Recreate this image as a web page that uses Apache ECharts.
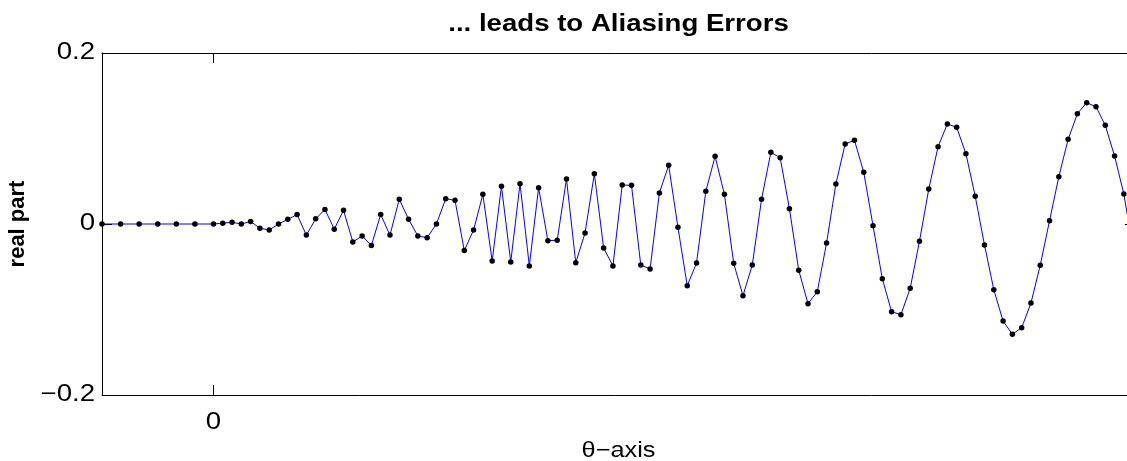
<!DOCTYPE html>
<html>
<head>
<meta charset="utf-8">
<script src="https://cdn.jsdelivr.net/npm/echarts@6/dist/echarts.min.js"></script>
<style>
  html, body { margin: 0; padding: 0; background: #fff; }
  #chart { width: 1127px; height: 461px; }
</style>
</head>
<body>
<div id="chart"></div>
<script>
// Sample positions along the theta axis (coarse lead-in, then unit steps)
const theta = [-12, -10, -8, -6, -4, -2,
  0, 1, 2, 3, 4, 5, 6, 7, 8, 9, 10, 11, 12, 13, 14, 15, 16, 17, 18, 19,
  20, 21, 22, 23, 24, 25, 26, 27, 28, 29, 30, 31, 32, 33, 34, 35, 36, 37, 38, 39,
  40, 41, 42, 43, 44, 45, 46, 47, 48, 49, 50, 51, 52, 53, 54, 55, 56, 57, 58, 59,
  60, 61, 62, 63, 64, 65, 66, 67, 68, 69, 70, 71, 72, 73, 74, 75, 76, 77, 78, 79,
  80, 81, 82, 83, 84, 85, 86, 87, 88, 89, 90, 91, 92, 93, 94, 95, 96, 97, 98, 99];

// Real part of the sampled signal
const realPart = [0, 0, 0, 0, 0, 0,
  0, 0.001, 0.002, 0.0, 0.003, -0.005, -0.007, 0.0, 0.0055, 0.011,
  -0.013, 0.006, 0.017, -0.006, 0.016, -0.021, -0.014, -0.025, 0.011, -0.013,
  0.029, 0.0055, -0.014, -0.016, 0.0, 0.0296, 0.0277, -0.031, -0.007, 0.0347,
  -0.0433, 0.0441, -0.0444, 0.0471, -0.049, 0.0425, -0.0195, -0.019, 0.0526, -0.0452,
  -0.0105, 0.0588, -0.028, -0.049, 0.0456, 0.0452, -0.048, -0.0526, 0.0363, 0.0686,
  -0.0039, -0.0721, -0.0456, 0.0382, 0.0792, 0.0347, -0.046, -0.0838, -0.048, 0.0289,
  0.0838, 0.0776, 0.0179, -0.054, -0.0932, -0.0792, -0.0222, 0.0468, 0.0936, 0.0979,
  0.0605, -0.002, -0.064, -0.1026, -0.1061, -0.0752, -0.0202, 0.0409, 0.0904, 0.117,
  0.1131, 0.0822, 0.0324, -0.0246, -0.0768, -0.1135, -0.129, -0.1213, -0.0924, -0.0483,
  0.0039, 0.0553, 0.099, 0.129, 0.1419, 0.1372, 0.1154, 0.0795, 0.0351, -0.03];

const xTicks = [0];
const yTicks = [-0.2, 0, 0.2];

const titleText = '... leads to Aliasing Errors';
const xName = '\u03B8\u2212axis';
const yName = 'real part';

const FONT = '"Liberation Sans", Arial, Helvetica, sans-serif';
const WIDEN = 1.2;   // the figure's lettering runs slightly wide
const fmt = v => (v < 0 ? '\u2212' + String(-v) : String(v));

const GRID = { left: 102, right: -8, top: 53, bottom: 66 };
const X_MIN = -12, X_MAX = 99.2;

const chart = echarts.init(document.getElementById('chart'), null, { renderer: 'canvas' });

const frameLine = { show: true, onZero: false, lineStyle: { color: '#000', width: 1 } };
const inTick = { show: true, inside: true, length: 10, lineStyle: { color: '#000', width: 1 } };

chart.setOption({
  backgroundColor: '#fff',
  animation: false,
  grid: Object.assign({ outerBoundsMode: 'none' }, GRID),
  xAxis: [{
    type: 'value', position: 'bottom', min: X_MIN, max: X_MAX,
    axisLine: frameLine,
    axisTick: Object.assign({}, inTick, { customValues: xTicks }),
    axisLabel: { show: false },
    splitLine: { show: false }
  }, {
    type: 'value', position: 'top', min: X_MIN, max: X_MAX,
    axisLine: frameLine,
    axisTick: Object.assign({}, inTick, { customValues: xTicks }),
    axisLabel: { show: false },
    splitLine: { show: false }
  }],
  yAxis: [{
    type: 'value', position: 'left', min: -0.2, max: 0.2, interval: 0.2,
    axisLine: frameLine,
    axisTick: Object.assign({}, inTick, { customValues: yTicks }),
    axisLabel: { show: false },
    splitLine: { show: false }
  }, {
    type: 'value', position: 'right', min: -0.2, max: 0.2, interval: 0.2,
    axisLine: frameLine,
    axisTick: Object.assign({}, inTick, { customValues: yTicks }),
    axisLabel: { show: false },
    splitLine: { show: false }
  }],
  series: [{
    type: 'line',
    xAxisIndex: 0, yAxisIndex: 0,
    data: theta.map((t, i) => [t, realPart[i]]),
    clip: true,
    lineStyle: { color: '#0000ff', width: 1 },
    symbol: 'circle', symbolSize: 5.5,
    showAllSymbol: true,
    itemStyle: { color: '#000', borderWidth: 0 },
    z: 3
  }]
});

// Tick labels, axis titles and heading, placed through the axis scales
const gridLeft = GRID.left;
const gridRight = 1127 - GRID.right;
const gridBottom = 461 - GRID.bottom;
const plotMidX = (gridLeft + gridRight) / 2;

const texts = [];
const txt = (s, x, y, opts) => Object.assign({
  type: 'text', x: x, y: y, silent: true, scaleX: WIDEN,
  style: Object.assign({ text: s, fill: '#000', align: 'center', verticalAlign: 'middle',
    font: 'normal 23px ' + FONT }, opts && opts.style)
}, opts && opts.el);

yTicks.forEach(v => {
  const py = chart.convertToPixel({ yAxisIndex: 0 }, v);
  texts.push(txt(fmt(v), gridLeft - 7, py, { style: { align: 'right' } }));
});
xTicks.forEach(v => {
  const px = chart.convertToPixel({ xAxisIndex: 0 }, v);
  texts.push(txt(fmt(v), px, gridBottom + 28));
});
texts.push(txt(xName, plotMidX, gridBottom + 56, { style: { font: 'normal 22px ' + FONT }, el: { scaleX: 1.15 } }));
texts.push(txt(yName, 18, (53 + gridBottom) / 2, {
  style: { font: 'bold 22px ' + FONT },
  el: { rotation: Math.PI / 2, scaleX: 1, scaleY: 1 }
}));
texts.push(txt(titleText, plotMidX, 25, { style: { font: 'bold 23px ' + FONT } }));

chart.setOption({ graphic: { elements: texts } });
</script>
</body>
</html>
